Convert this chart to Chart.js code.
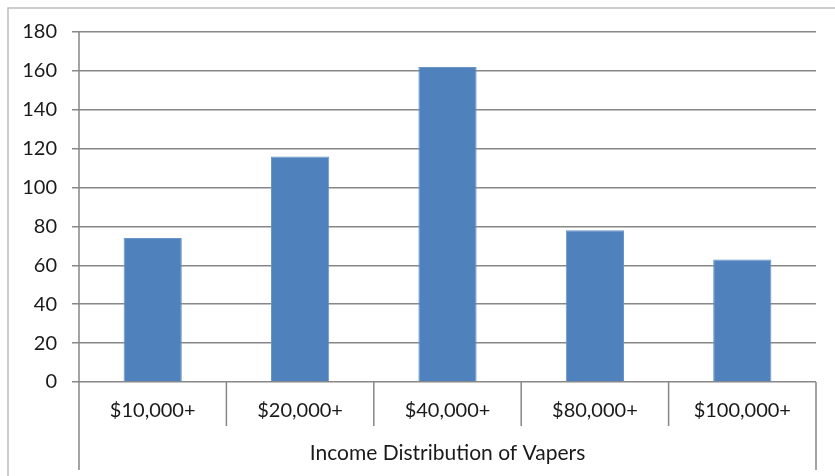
<!DOCTYPE html>
<html>
<head>
<meta charset="utf-8">
<script src="https://cdn.jsdelivr.net/npm/chart.js@4.4.0/dist/chart.umd.min.js"></script>
<style>
  html, body { margin: 0; padding: 0; background: #fff; }
  #wrap { width: 835px; height: 476px; position: relative; }
</style>
</head>
<body>
<div id="wrap"><canvas id="chart"></canvas></div>
<script>
const incomeLabels = ["$10,000+", "$20,000+", "$40,000+", "$80,000+", "$100,000+"];
const vaperCounts = [74, 116, 162, 78, 63];
const yTicks = [0, 20, 40, 60, 80, 100, 120, 140, 160, 180];
const axisTitle = "Income Distribution of Vapers";

const lineColor = "#878787";
const textColor = "#1a1a1a";
const fontFamily = "Lato, 'Open Sans', sans-serif";

// draws the frame and the category separators under the axis
const framePlugin = {
  id: "frame",
  afterDraw(chart) {
    const ctx = chart.ctx;
    const area = chart.chartArea;
    const x = chart.scales.x;
    const half = (x.getPixelForValue(1) - x.getPixelForValue(0)) / 2;
    ctx.save();
    // outer border (top + left)
    ctx.strokeStyle = "#bdbdbd";
    ctx.lineWidth = 1.5;
    ctx.beginPath();
    ctx.moveTo(8, 476);
    ctx.lineTo(8, 8);
    ctx.lineTo(835, 8);
    ctx.stroke();

    ctx.strokeStyle = lineColor;
    ctx.lineWidth = 1.5;
    ctx.beginPath();
    // long lines at both ends
    ctx.moveTo(area.left, area.top);
    ctx.lineTo(area.left, 470);
    ctx.moveTo(area.right, area.bottom);
    ctx.lineTo(area.right, 470);
    // short separators between categories
    for (let i = 1; i < incomeLabels.length; i++) {
      const px = x.getPixelForValue(i) - half;
      ctx.moveTo(px, area.bottom);
      ctx.lineTo(px, 426);
    }
    ctx.stroke();
    ctx.restore();
  }
};

new Chart(document.getElementById("chart"), {
  type: "bar",
  plugins: [framePlugin],
  data: {
    labels: incomeLabels,
    datasets: [{
      data: vaperCounts,
      backgroundColor: "#4F81BD",
      borderColor: "#6a95c8",
      borderWidth: 1,
      barPercentage: 0.395,
      categoryPercentage: 1
    }]
  },
  options: {
    responsive: true,
    maintainAspectRatio: false,
    animation: false,
    layout: { padding: { top: 32, right: 19, left: 0, bottom: 0 } },
    plugins: {
      legend: { display: false },
      tooltip: { enabled: false }
    },
    scales: {
      x: {
        afterFit: (s) => { s.height = 94; },
        grid: { display: false, drawTicks: false },
        border: { display: false },
        ticks: {
          color: textColor,
          padding: 17,
          maxRotation: 0,
          font: { family: fontFamily, size: 20 }
        },
        title: {
          display: true,
          text: axisTitle,
          color: textColor,
          padding: { top: 0, bottom: 10 },
          font: { family: fontFamily, size: 21 }
        }
      },
      y: {
        min: 0,
        max: 180,
        afterFit: (s) => { s.width = 79; },
        afterBuildTicks: (s) => { s.ticks = yTicks.map(v => ({ value: v })); },
        grid: { color: lineColor, lineWidth: 1.5, tickLength: 7 },
        border: { display: false },
        ticks: {
          color: textColor,
          padding: 15,
          font: { family: fontFamily, size: 20 }
        }
      }
    }
  }
});
</script>
</body>
</html>
